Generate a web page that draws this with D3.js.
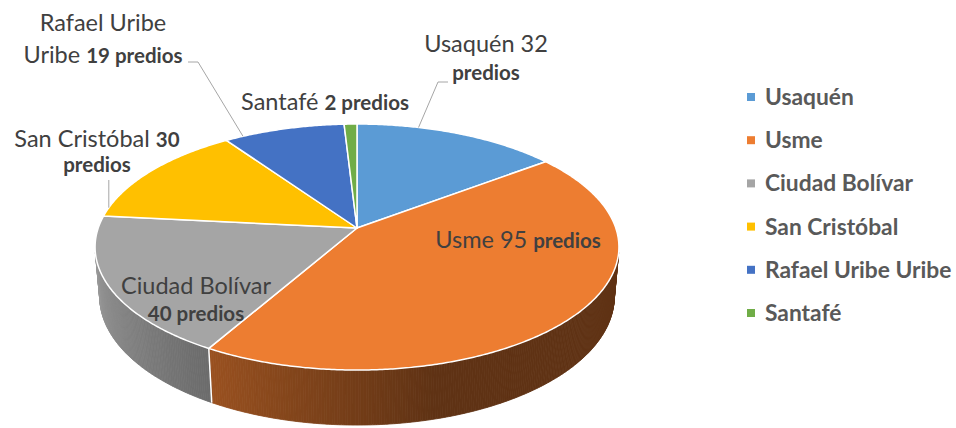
<!DOCTYPE html>
<html>
<head>
<meta charset="utf-8">
<script src="https://cdn.jsdelivr.net/npm/d3@7"></script>
<style>
  body { margin: 0; background: #ffffff; }
  svg { display: block; font-family: Lato, "Open Sans", sans-serif; }
</style>
</head>
<body>
<svg id="chart" width="956" height="428"></svg>
<script>
// Predios por localidad
const categories = ["Usaquén", "Usme", "Ciudad Bolívar", "San Cristóbal", "Rafael Uribe Uribe", "Santafé"];
const values = [32, 95, 40, 30, 19, 2];
const unitLabel = "predios";
const colors = ["#5B9BD5", "#ED7D31", "#A5A5A5", "#FFC000", "#4472C4", "#70AD47"];

const svg = d3.select("#chart");

// Perspective view of a flat disc (radius 1) seen from above and in front
const view = { cx: 357, cy: 228, F: 1482, D: 5.727, sinA: 0.464, cosA: 0.886, depth: 0.218 };
function project(r, theta, h) {
  const u = r * Math.sin(theta), v = -r * Math.cos(theta);
  const w = view.D - v * view.cosA + h * view.sinA;
  return [view.cx + view.F * u / w, view.cy + view.F * (v * view.sinA + h * view.cosA) / w];
}

const pie = d3.pie().sort(null).value(d => d).startAngle(0).endAngle(2 * Math.PI);
const arcs = pie(values);

// visible part of the outer wall
const k = 1 / (view.D * view.cosA);
const vis0 = Math.PI - Math.acos(k), vis1 = Math.PI + Math.acos(k);
const step = Math.PI / 360;

function angleSteps(a0, a1) {
  const n = Math.max(1, Math.ceil((a1 - a0) / step));
  return d3.range(n + 1).map(i => a0 + (a1 - a0) * i / n);
}

// wall shade: lighter on the left, dark toward the right
function wallShade(theta) {
  const t = Math.max(0, Math.min(1, (theta - 165 * Math.PI / 180) / (vis1 - 165 * Math.PI / 180)));
  return 0.40 + 0.52 * t;
}
function shaded(color, f) {
  const c = d3.rgb(color);
  return d3.rgb(c.r * f, c.g * f, c.b * f).formatHex();
}

const wallLayer = svg.append("g").attr("class", "wall");
arcs.forEach((a, i) => {
  const a0 = Math.max(a.startAngle, vis0), a1 = Math.min(a.endAngle, vis1);
  if (a1 <= a0) return;
  const ts = angleSteps(a0, a1);
  for (let j = 0; j < ts.length - 1; j++) {
    const t0 = ts[j], t1 = ts[j + 1];
    const pts = [project(1, t0, 0), project(1, t1, 0), project(1, t1, view.depth), project(1, t0, view.depth)];
    const col = shaded(colors[i], wallShade((t0 + t1) / 2));
    wallLayer.append("path")
      .attr("d", "M" + pts.join("L") + "Z")
      .attr("fill", col).attr("stroke", col).attr("stroke-width", 0.8);
  }
});
// separators on the wall
arcs.forEach(a => {
  const t = a.startAngle;
  if (t > vis0 && t < vis1) {
    const p0 = project(1, t, 0), p1 = project(1, t, view.depth);
    wallLayer.append("line").attr("x1", p0[0]).attr("y1", p0[1]).attr("x2", p1[0]).attr("y2", p1[1])
      .attr("stroke", "#ffffff").attr("stroke-width", 1.5);
  }
});

// top faces
const topLayer = svg.append("g").attr("class", "top-face");
const centre = project(0, 0, 0);
arcs.forEach((a, i) => {
  const pts = angleSteps(a.startAngle, a.endAngle).map(t => project(1, t, 0));
  topLayer.append("path")
    .attr("d", "M" + centre + "L" + pts.join("L") + "Z")
    .attr("fill", colors[i])
    .attr("stroke", "#ffffff").attr("stroke-width", 1.5).attr("stroke-linejoin", "round");
});

// data labels
const nameSize = 23.5, valueSize = 20.5;
const R = (t) => ({ t, bold: false }), B = (t) => ({ t, bold: true });
const labelLayout = [
  { x: 486, ys: [52, 80], lines: (n, v) => [[R(n + " " + v)], [B(unitLabel)]],
    leader: { frac: 0.3, via: [[448, 82], [438, 82]] } },
  { x: 518, ys: [248], lines: (n, v) => [[R(n + " " + v + " "), B(unitLabel)]] },
  { x: 196, ys: [294, 321], lines: (n, v) => [[R(n)], [B(v + " " + unitLabel)]] },
  { x: 97, ys: [147, 172], lines: (n, v) => [[R(n + " "), B(String(v))], [B(unitLabel)]],
    leader: { frac: 0.085, vertical: [111, 180] } },
  { x: 103, ys: [31, 63], lines: (n, v) => {
      const w = n.split(" ");
      return [[R(w.slice(0, 2).join(" "))], [R(w.slice(2).join(" ") + " "), B(v + " " + unitLabel)]];
    },
    leader: { frac: 0.15, via: [[188, 62], [198, 62]] } },
  { x: 325, ys: [110], lines: (n, v) => [[R(n + " "), B(v + " " + unitLabel)]] }
];

const leaders = svg.append("g").attr("class", "leaders");
const labels = svg.append("g").attr("class", "labels");
arcs.forEach((a, i) => {
  const L = labelLayout[i];
  L.lines(categories[i], values[i]).forEach((segs, li) => {
    const text = labels.append("text")
      .attr("x", L.x).attr("y", L.ys[li])
      .attr("text-anchor", "middle").attr("fill", "#404040");
    segs.forEach(s => text.append("tspan")
      .attr("font-weight", s.bold ? 700 : 400)
      .attr("font-size", s.bold ? valueSize : nameSize)
      .text(s.t));
  });
  if (L.leader) {
    const th = a.startAngle + L.leader.frac * (a.endAngle - a.startAngle);
    const end = project(1, th, 0);
    let pts;
    if (L.leader.vertical) pts = [[end[0], L.leader.vertical[1]], end];
    else pts = L.leader.via.concat([end]);
    leaders.append("path")
      .attr("d", d3.line()(pts))
      .attr("fill", "none").attr("stroke", "#a6a6a6").attr("stroke-width", 1);
  }
});

// legend
const legend = svg.append("g").attr("class", "legend").attr("transform", "translate(747,97)");
const rowGap = 43.2;
categories.forEach((c, i) => {
  const g = legend.append("g").attr("transform", `translate(0,${i * rowGap})`);
  g.append("rect").attr("x", 0).attr("y", -4).attr("width", 8).attr("height", 8).attr("fill", colors[i]);
  g.append("text").attr("x", 18).attr("y", 0).attr("dy", "0.35em")
    .attr("font-size", 22.8).attr("font-weight", 700).attr("fill", "#595959").text(c);
});
</script>
</body>
</html>
